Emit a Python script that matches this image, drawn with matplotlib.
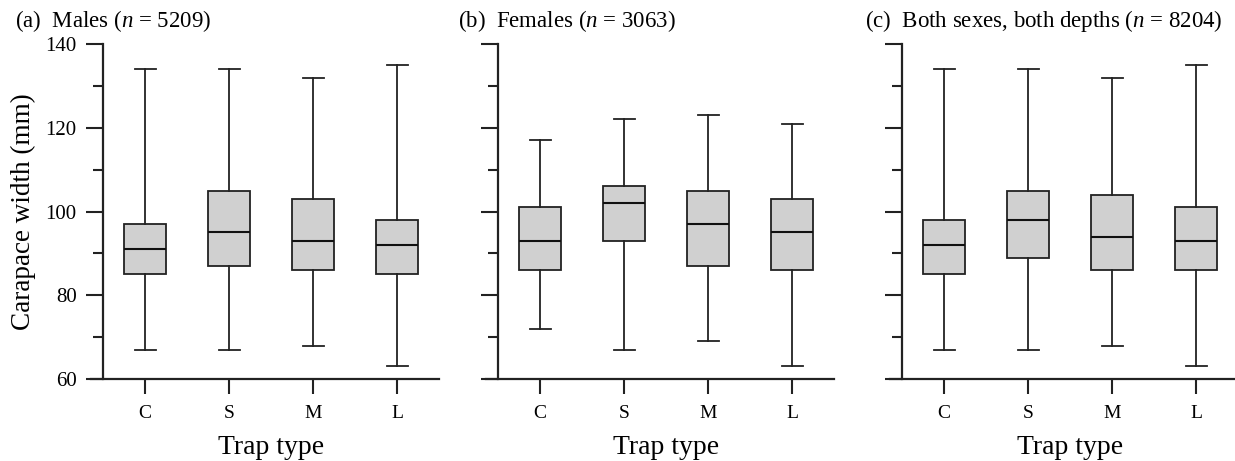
import matplotlib
matplotlib.use("Agg")
import matplotlib.pyplot as plt
from matplotlib.ticker import MultipleLocator

plt.rcParams["font.family"] = ["Liberation Serif", "DejaVu Serif"]
plt.rcParams["mathtext.fontset"] = "custom"
plt.rcParams["mathtext.rm"] = "Liberation Serif"
plt.rcParams["mathtext.it"] = "Liberation Serif:italic"

trap_types = ["C", "S", "M", "L"]

# whisker low, Q1, median, Q3, whisker high for each trap type
males_low = [67, 67, 68, 63]
males_q1 = [85, 87, 86, 85]
males_med = [91, 95, 93, 92]
males_q3 = [97, 105, 103, 98]
males_high = [134, 134, 132, 135]

females_low = [72, 67, 69, 63]
females_q1 = [86, 93, 87, 86]
females_med = [93, 102, 97, 95]
females_q3 = [101, 106, 105, 103]
females_high = [117, 122, 123, 121]

both_low = [67, 67, 68, 63]
both_q1 = [85, 89, 86, 86]
both_med = [92, 98, 94, 93]
both_q3 = [98, 105, 104, 101]
both_high = [134, 134, 132, 135]

panel_titles = [
    r"(a)  Males ($n$ = 5209)",
    r"(b)  Females ($n$ = 3063)",
    r"(c)  Both sexes, both depths ($n$ = 8204)",
]

W, H = 1235, 461


def make_stats(low, q1, med, q3, high):
    return [
        {"whislo": lo, "q1": a, "med": m, "q3": b, "whishi": hi, "fliers": []}
        for lo, a, m, b, hi in zip(low, q1, med, q3, high)
    ]


def draw_panel(ax, stats, show_labels):
    positions = list(range(1, len(trap_types) + 1))
    line = {"color": "#222222", "linewidth": 1.3}
    ax.bxp(
        stats,
        positions=positions,
        widths=0.5,
        patch_artist=True,
        showfliers=False,
        boxprops={"facecolor": "#d0d0d0", "edgecolor": "#222222", "linewidth": 1.3},
        medianprops={"color": "#111111", "linewidth": 1.5},
        whiskerprops=line,
        capprops=line,
    )
    ax.set_xlim(0.5, 4.5)
    ax.set_ylim(60, 140)
    ax.set_xticks(positions)
    ax.set_xticklabels(trap_types)
    ax.yaxis.set_major_locator(MultipleLocator(20))
    ax.yaxis.set_minor_locator(MultipleLocator(10))
    for side in ["top", "right"]:
        ax.spines[side].set_visible(False)
    for side in ["left", "bottom"]:
        ax.spines[side].set_linewidth(1.6)
        ax.spines[side].set_color("#222222")
    # bottom spine runs a little past the y axis, under the tick marks
    ax.spines["bottom"].set_bounds(0.5 - 12 / 84, 4.5)
    ax.tick_params(axis="both", which="major", length=12, width=1.5,
                   color="#222222")
    ax.tick_params(axis="y", which="minor", length=7, width=1.5, color="#222222")
    ax.tick_params(axis="x", which="both", length=11, labelsize=14, pad=8)
    ax.tick_params(axis="y", which="major", labelsize=15, pad=7)
    if not show_labels:
        ax.tick_params(axis="y", which="both", labelleft=False)
    ax.set_xlabel("Trap type", fontsize=20, labelpad=9)


fig = plt.figure(figsize=(W / 100, H / 100), dpi=100)

lefts = [103, 498, 902]
title_x = [15, 458, 865]
all_stats = [
    make_stats(males_low, males_q1, males_med, males_q3, males_high),
    make_stats(females_low, females_q1, females_med, females_q3, females_high),
    make_stats(both_low, both_q1, both_med, both_q3, both_high),
]

bottom = 1 - 379 / H
height = (379 - 44) / H
for i, (left, stats) in enumerate(zip(lefts, all_stats)):
    ax = fig.add_axes([left / W, bottom, 336 / W, height])
    draw_panel(ax, stats, i == 0)
    if i == 0:
        ax.set_ylabel("Carapace width (mm)", fontsize=19.5, labelpad=7)
    fig.text(title_x[i] / W, 1 - 27 / H, panel_titles[i], fontsize=16.5,
             ha="left", va="baseline")

fig.savefig("out.png", dpi=100)
